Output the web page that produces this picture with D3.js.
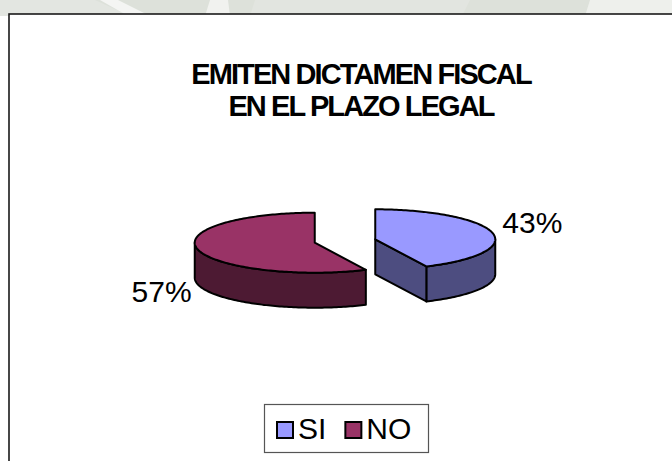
<!DOCTYPE html>
<html><head><meta charset="utf-8">
<script src="https://cdn.jsdelivr.net/npm/d3@7"></script>
<style>html,body{margin:0;padding:0;background:#fff;}svg{display:block;}</style>
</head><body>
<svg id="chart" width="672" height="461"></svg>
<script>
// ---- data ----
const categories = ["SI", "NO"];
const values = [43, 57];
const labels = ["43%", "57%"];
const titleLines = ["EMITEN DICTAMEN FISCAL", "EN EL PLAZO LEGAL"];
const topColors = ["#9999ff", "#993366"];
const sideColors = ["#4d4d80", "#4d1a33"];

// ---- layout ----
const W = 672, H = 461;
const svg = d3.select("#chart");
const font = "Arial, 'Liberation Sans', Helvetica, sans-serif";

// background band at top (scanned-page remnants)
svg.append("rect").attr("x",0).attr("y",0).attr("width",W).attr("height",16).attr("fill","#dde1da");
const band = [
  [[0,0],[95,0],[130,16],[0,16]],
  [[100,0],[118,0],[150,16],[128,16]],
  [[210,0],[228,0],[230,16],[205,16]],
  [[255,0],[470,0],[462,16],[250,16]],
  [[590,0],[672,0],[672,16],[585,16]]
];
const bandFill = ["#e3e6e1","#f4f5f3","#f1f2ef","#e2e5e0","#eef0ec"];
band.forEach((p,i)=>svg.append("polygon").attr("points",p.map(d=>d.join(",")).join(" ")).attr("fill",bandFill[i]));
svg.append("rect").attr("x",9).attr("y",14).attr("width",W+20).attr("height",H+20)
  .attr("fill","#fff").attr("stroke","#1a1a1a").attr("stroke-width",1.6);

// title
const title = svg.append("text").attr("x",361).attr("y",84)
  .attr("text-anchor","middle").attr("font-family",font).attr("font-weight","bold")
  .attr("font-size",29).attr("letter-spacing",-1.9).attr("fill","#000");
titleLines.forEach((t,i)=>title.append("tspan").attr("x",361).attr("dy",i?32:0).text(t));

// 3D pie
const cx = 345, cy = 241, rx = 120, ry = 30, depth = 35, explode = 31;
const pie = d3.pie().sort(null).value(d=>d)
  .startAngle(0).endAngle(2*Math.PI);
const arcs = pie(values);

function pt(c, a, dy) { return [c[0] + rx*Math.sin(a), c[1] - ry*Math.cos(a) + (dy||0)]; }
function ellArc(c, a0, a1, dy) {
  const n = Math.max(2, Math.ceil(Math.abs(a1-a0)/0.02));
  const pts = [];
  for (let i=0;i<=n;i++) pts.push(pt(c, a0 + (a1-a0)*i/n, dy));
  return pts;
}
const line = d3.line();

arcs.forEach((d,i)=>{
  const mid = (d.startAngle + d.endAngle)/2;
  const c = [cx + explode*Math.sin(mid), cy - explode*(ry/rx)*Math.cos(mid)];
  const g = svg.append("g");
  const walls = [];
  if (Math.sin(d.startAngle) < -1e-6) walls.push(d.startAngle);
  if (Math.sin(d.endAngle) > 1e-6) walls.push(d.endAngle);
  const o0 = Math.max(d.startAngle, Math.PI/2), o1 = Math.min(d.endAngle, 3*Math.PI/2);
  if (o1 > o0) {
    const top = ellArc(c, o0, o1, 0);
    const bot = ellArc(c, o1, o0, depth);
    g.append("path").attr("d", line(top.concat(bot)) + "Z").attr("fill", sideColors[i])
      .attr("stroke","#000").attr("stroke-width",2).attr("stroke-linejoin","round");
  }
  walls.forEach(a=>{
    const e = pt(c, a, 0);
    const p = [c, e, [e[0], e[1]+depth], [c[0], c[1]+depth]];
    g.append("path").attr("d", line(p)+"Z").attr("fill", sideColors[i])
      .attr("stroke","#000").attr("stroke-width",2).attr("stroke-linejoin","round");
  });
  const topPts = [c].concat(ellArc(c, d.startAngle, d.endAngle, 0));
  g.append("path").attr("d", line(topPts)+"Z").attr("fill", topColors[i])
    .attr("stroke","#000").attr("stroke-width",2).attr("stroke-linejoin","round");
  const edge = pt(c, mid, 0);
  const right = Math.sin(mid) > 0;
  svg.append("text")
    .attr("x", edge[0] + (right ? 10 : -6))
    .attr("y", edge[1] + (right ? 0 : depth + 18))
    .attr("text-anchor", right ? "start" : "end")
    .attr("font-family", font).attr("font-size", 30).attr("fill","#000")
    .text(labels[i]);
});

// legend
const lg = svg.append("g");
lg.append("rect").attr("x",264.5).attr("y",404.5).attr("width",164).attr("height",48)
  .attr("fill","#fff").attr("stroke","#555").attr("stroke-width",1.2);
let lx = 277;
categories.forEach((c,i)=>{
  lg.append("rect").attr("x",lx).attr("y",422).attr("width",16).attr("height",16)
    .attr("fill",topColors[i]).attr("stroke","#000").attr("stroke-width",2);
  const t = lg.append("text").attr("x",lx+21).attr("y",439)
    .attr("font-family",font).attr("font-size",30).attr("fill","#000").text(c);
  lx += 21 + t.node().getComputedTextLength() + 19;
});
</script>
</body></html>
